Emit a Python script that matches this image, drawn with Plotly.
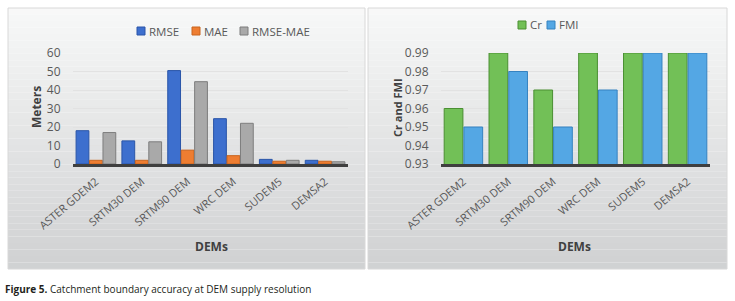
import plotly.graph_objects as go

categories = ["ASTER GDEM2", "SRTM30 DEM", "SRTM90 DEM", "WRC DEM", "SUDEM5", "DEMSA2"]
rmse = [18, 12.5, 50.5, 24.5, 2.5, 2]
mae = [2, 2, 7.5, 4.5, 1.5, 1.5]
rmse_mae = [17, 12, 44.5, 22, 2, 1.2]
cr = [0.96, 0.99, 0.97, 0.99, 0.99, 0.99]
fmi = [0.95, 0.98, 0.95, 0.97, 0.99, 0.99]

left_names = ["RMSE", "MAE", "RMSE-MAE"]
left_colors = ["#3d6fce", "#ee7d31", "#a9a9a9"]
left_edges = ["#2a55a8", "#c8641f", "#7d7d7d"]
right_names = ["Cr", "FMI"]
right_colors = ["#72c057", "#54a7e4"]
right_edges = ["#4a8f32", "#3582c0"]

W, H = 735, 301
def px(x): return x / W
def py(y): return 1 - y / H

FONT = "Open Sans, Noto Sans, sans-serif"

fig = go.Figure()
for name, vals, col, edge in zip(left_names, [rmse, mae, rmse_mae], left_colors, left_edges):
    fig.add_bar(x=categories, y=vals, name=name, marker=dict(color=col, line=dict(color=edge, width=1)),
                xaxis="x", yaxis="y", showlegend=False)
for name, vals, col, edge in zip(right_names, [cr, fmi], right_colors, right_edges):
    fig.add_bar(x=categories, y=vals, name=name, marker=dict(color=col, line=dict(color=edge, width=1)),
                xaxis="x2", yaxis="y2", showlegend=False)

shapes = []
annotations = []
panels = [(8, 365), (368, 727)]
top, bot = 8, 269
n = 40
for (x0, x1) in panels:
    for i in range(n):
        t = i / (n - 1)
        c0 = (248, 248, 248)
        c1 = (208, 210, 211)
        c = tuple(int(c0[k] + (c1[k] - c0[k]) * t) for k in range(3))
        ya = top + (bot - top) * i / n
        yb = top + (bot - top) * (i + 1) / n
        shapes.append(dict(type="rect", xref="paper", yref="paper", layer="below",
                           x0=px(x0), x1=px(x1), y0=py(yb), y1=py(ya),
                           fillcolor="rgb(%d,%d,%d)" % c, line=dict(width=0)))
    shapes.append(dict(type="rect", xref="paper", yref="paper", layer="below",
                       x0=px(x0), x1=px(x1), y0=py(bot), y1=py(top),
                       line=dict(color="#d8d8d8", width=1)))

# legends (swatch + label)
def legend_item(sx, sy, name, col, edge):
    shapes.append(dict(type="rect", xref="paper", yref="paper", x0=px(sx), x1=px(sx + 8),
                       y0=py(sy + 4), y1=py(sy - 4), fillcolor=col, line=dict(color=edge, width=1)))
    annotations.append(dict(text=name, x=px(sx + 10), y=py(sy), xref="paper", yref="paper",
                            xanchor="left", yanchor="middle", showarrow=False,
                            font=dict(family=FONT, size=11.5, color="#595959")))

for sx, name, col, edge in zip([137, 192, 240], left_names, left_colors, left_edges):
    legend_item(sx, 31, name, col, edge)
for sx, name, col, edge in zip([518, 547], right_names, right_colors, right_edges):
    legend_item(sx, 25, name, col, edge)

tickfont = dict(family=FONT, size=12, color="#595959")
catfont = dict(family=FONT, size=11, color="#595959")

common_x = dict(tickangle=-40, tickfont=catfont, showline=True, linecolor="#3f3f3f", linewidth=3,
                ticks="outside", ticklen=4, tickcolor="rgba(0,0,0,0)", showgrid=False, automargin=False)
common_y = dict(tickfont=tickfont, gridcolor="#e2e2e2", showline=False, zeroline=False,
                ticklen=9, ticks="outside", tickcolor="rgba(0,0,0,0)", automargin=False)

annotations += [
    dict(text="<b>Meters</b>", x=px(36), y=py(107), xref="paper", yref="paper", textangle=-90,
         xanchor="center", yanchor="middle",
         showarrow=False, font=dict(family=FONT, size=12, color="#404040")),
    dict(text="<b>Cr and FMI</b>", x=px(397), y=py(108), xref="paper", yref="paper", textangle=-90,
         xanchor="center", yanchor="middle",
         showarrow=False, font=dict(family=FONT, size=11, color="#404040")),
    dict(text="<b>DEMs</b>", x=px(211), y=py(246), xref="paper", yref="paper",
         xanchor="center", yanchor="middle",
         showarrow=False, font=dict(family=FONT, size=12, color="#404040")),
    dict(text="<b>DEMs</b>", x=px(574), y=py(246), xref="paper", yref="paper",
         xanchor="center", yanchor="middle",
         showarrow=False, font=dict(family=FONT, size=12, color="#404040")),
    dict(text="<b>Figure 5.</b> Catchment boundary accuracy at DEM supply resolution", x=px(3), y=py(289),
         xref="paper", yref="paper", xanchor="left", yanchor="middle",
         showarrow=False, font=dict(family=FONT, size=10, color="#231f20")),
]

fig.update_layout(
    width=W, height=H, margin=dict(l=0, r=0, t=0, b=0, autoexpand=False),
    paper_bgcolor="white", plot_bgcolor="rgba(0,0,0,0)",
    barmode="group", bargap=0.12, bargroupgap=0.05,
    shapes=shapes, annotations=annotations, showlegend=False,
    xaxis=dict(domain=[px(73), px(348)], anchor="y", **common_x),
    yaxis=dict(domain=[py(164), py(53)], anchor="x", range=[0, 60], dtick=10, **common_y),
    xaxis2=dict(domain=[px(441), px(710)], anchor="y2", **common_x),
    yaxis2=dict(domain=[py(164), py(53)], anchor="x2", range=[0.93, 0.99], dtick=0.01, tickformat=".2f", **common_y),
)

fig.write_html("out.html", config={"displayModeBar": False},
               post_script="document.body.style.margin='0';document.body.style.overflow='hidden';")
